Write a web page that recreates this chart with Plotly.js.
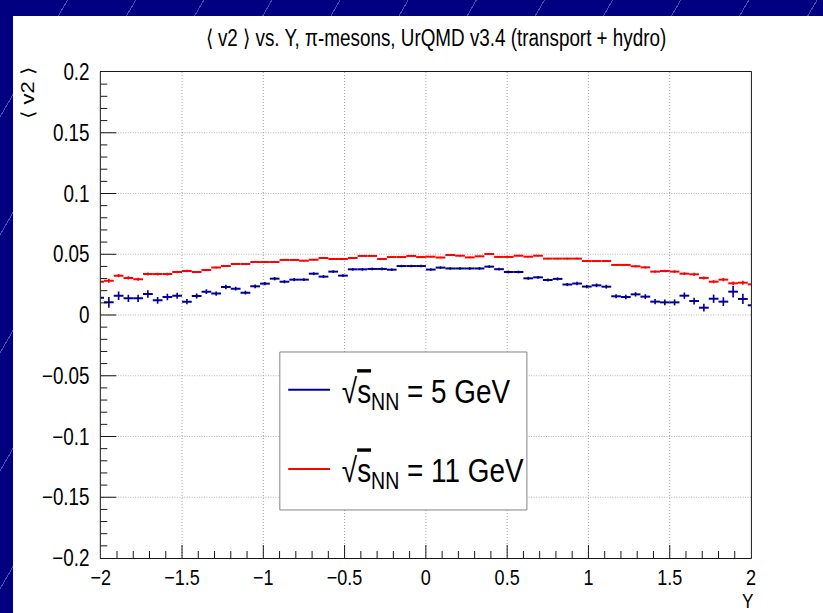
<!DOCTYPE html>
<html><head><meta charset="utf-8">
<script src="https://cdn.plot.ly/plotly-3.0.1.min.js"></script>
<style>
html,body{margin:0;padding:0;width:823px;height:613px;overflow:hidden;}
body{background-color:#000080;background-image:repeating-linear-gradient(120deg, rgba(0,0,0,0) 0px, rgba(0,0,0,0) 58px, rgba(120,130,220,0.6) 58px, rgba(120,130,220,0.6) 59px);}
#chart{position:absolute;left:13px;top:16px;width:988px;height:597px;background:#fff;transform:scaleX(0.82);transform-origin:0 0;}
</style></head><body><div id="chart"></div>
<script>
// bin centres of rapidity Y (bin width 0.06)
const rapidity = [-2.01,-1.95,-1.89,-1.83,-1.77,-1.71,-1.65,-1.59,-1.53,-1.47,-1.41,-1.35,-1.29,-1.23,-1.17,-1.11,-1.05,-0.99,-0.93,-0.87,-0.81,-0.75,-0.69,-0.63,-0.57,-0.51,-0.45,-0.39,-0.33,-0.27,-0.21,-0.15,-0.09,-0.03,
0.03,0.09,0.15,0.21,0.27,0.33,0.39,0.45,0.51,0.57,0.63,0.69,0.75,0.81,0.87,0.93,0.99,1.05,1.11,1.17,1.23,1.29,1.35,1.41,1.47,1.53,1.59,1.65,1.71,1.77,1.83,1.89,1.95,2.01];
const binHalfWidth = 0.03;

// <v2> for sqrt(sNN) = 5 GeV
const v2_5GeV = [0.0143,0.0104,0.0159,0.0137,0.0137,0.0173,0.0121,0.0148,0.0159,0.0110,
0.0156,0.0192,0.0176,0.0230,0.0217,0.0184,0.0236,0.0258,0.0299,0.0274,
0.0291,0.0291,0.0340,0.0316,0.0357,0.0324,0.0376,0.0376,0.0379,0.0379,
0.0373,0.0403,0.0403,0.0403,0.0374,0.0390,0.0383,0.0383,0.0383,0.0383,
0.0398,0.0377,0.0354,0.0354,0.0302,0.0310,0.0288,0.0297,0.0251,0.0259,
0.0234,0.0244,0.0233,0.0154,0.0148,0.0170,0.0151,0.0110,0.0104,0.0104,
0.0159,0.0115,0.0060,0.0134,0.0110,0.0192,0.0132,0.0080];
const err_5GeV = [0.0050,0.0045,0.0035,0.0030,0.0030,0.0030,0.0028,0.0026,0.0025,0.0022,
0.0020,0.0020,0.0018,0.0018,0.0016,0.0016,0.0015,0.0014,0.0014,0.0013,
0.0013,0.0012,0.0012,0.0012,0.0011,0.0011,0.0011,0.0011,0.0011,0.0011,
0.0010,0.0010,0.0010,0.0010,0.0010,0.0010,0.0010,0.0010,0.0011,0.0011,
0.0011,0.0011,0.0011,0.0011,0.0012,0.0012,0.0012,0.0013,0.0013,0.0014,
0.0014,0.0015,0.0016,0.0016,0.0018,0.0018,0.0020,0.0022,0.0024,0.0025,
0.0026,0.0028,0.0032,0.0034,0.0036,0.0048,0.0042,0.0048];

// <v2> for sqrt(sNN) = 11 GeV
const v2_11GeV = [0.0274,0.0282,0.0324,0.0305,0.0294,0.0337,0.0337,0.0337,0.0354,0.0362,
0.0354,0.0370,0.0390,0.0403,0.0420,0.0420,0.0436,0.0436,0.0436,0.0453,
0.0453,0.0447,0.0455,0.0469,0.0461,0.0461,0.0469,0.0486,0.0486,0.0461,
0.0477,0.0477,0.0486,0.0477,0.0480,0.0473,0.0494,0.0488,0.0474,0.0483,
0.0502,0.0478,0.0478,0.0488,0.0480,0.0488,0.0464,0.0464,0.0464,0.0464,
0.0444,0.0444,0.0444,0.0412,0.0412,0.0401,0.0392,0.0357,0.0362,0.0357,
0.0340,0.0335,0.0305,0.0274,0.0291,0.0261,0.0266,0.0252];
const err_11GeV = [0.0018,0.0016,0.0014,0.0013,0.0012,0.0012,0.0011,0.0011,0.0010,0.0010,
0.0009,0.0009,0.0008,0.0008,0.0008,0.0007,0.0007,0.0007,0.0007,0.0006,
0.0006,0.0006,0.0006,0.0006,0.0006,0.0006,0.0006,0.0006,0.0006,0.0006,
0.0006,0.0006,0.0006,0.0006,0.0006,0.0006,0.0006,0.0006,0.0006,0.0006,
0.0006,0.0006,0.0006,0.0006,0.0006,0.0006,0.0006,0.0006,0.0007,0.0007,
0.0007,0.0007,0.0008,0.0008,0.0008,0.0009,0.0009,0.0010,0.0010,0.0011,
0.0011,0.0012,0.0012,0.0013,0.0014,0.0015,0.0016,0.0018];

const seriesNames = ['\u00A0\u221A<span style="text-decoration:overline">s</span><sub>NN</sub> = 5 GeV',
                     '\u00A0\u221A<span style="text-decoration:overline">s</span><sub>NN</sub> = 11 GeV'];
const colors = ['#000099', '#ff0000'];

const F = '"Liberation Sans", Arial, Helvetica, sans-serif';

function histTrace(y, e, color) {
  return {
    x: rapidity, y: y, type: 'scatter', mode: 'markers',
    marker: {size: 0, opacity: 0, color: color},
    error_x: {type: 'constant', value: binHalfWidth, width: 0, thickness: 2, color: color},
    error_y: {type: 'data', array: e, visible: true, width: 0, thickness: 2, color: color},
    showlegend: false, hoverinfo: 'x+y'
  };
}
function legendTrace(name, color, grp) {
  return {x: [null], y: [null], type: 'scatter', mode: 'lines', name: name,
          legendgroup: grp, line: {color: color, width: 2}, showlegend: true};
}

const data = [
  histTrace(v2_5GeV, err_5GeV, colors[0]),
  histTrace(v2_11GeV, err_11GeV, colors[1]),
  legendTrace(seriesNames[0], colors[0], 'a'),
  legendTrace(seriesNames[1], colors[1], 'b')
];

const layout = {
  width: 988, height: 597,
  margin: {l: 107, r: 88, t: 56, b: 55},
  paper_bgcolor: '#ffffff', plot_bgcolor: '#ffffff',
  font: {family: F, color: '#000', size: 23},
  title: {text: '\u27E8 v2 \u27E9 vs. Y, \u03C0-mesons, UrQMD v3.4 (transport + hydro)',
          font: {family: F, size: 23, color: '#000'}, xref: 'container', x: 0.522, xanchor: 'center',
          yref: 'container', y: 1 - 22/597, yanchor: 'middle'},
  xaxis: {range: [-2, 2], dtick: 0.5, tick0: -2, showgrid: true, gridcolor: '#999', griddash: '1px,2px', gridwidth: 1,
          zeroline: false, showline: true, mirror: true, linecolor: '#000', linewidth: 1,
          ticks: 'inside', ticklen: 13, tickcolor: '#000', tickwidth: 1,
          minor: {dtick: 0.1, ticks: 'inside', ticklen: 7, tickcolor: '#000', showgrid: false},
          tickfont: {family: F, size: 22}, ticklabelstandoff: 0},
  yaxis: {range: [-0.2, 0.2], dtick: 0.05, tick0: 0, showgrid: true, gridcolor: '#999', griddash: '1px,2px', gridwidth: 1,
          zeroline: false, showline: true, mirror: true, linecolor: '#000', linewidth: 1,
          ticks: 'inside', ticklen: 19, tickcolor: '#000', tickwidth: 1,
          minor: {dtick: 0.01, ticks: 'inside', ticklen: 8, tickcolor: '#000', showgrid: false},
          tickfont: {family: F, size: 23}, ticklabelstandoff: 8},
  showlegend: true,
  legend: {x: 0.282, y: 0.405, xanchor: 'left', yanchor: 'top', bgcolor: 'rgba(0,0,0,0)',
           borderwidth: 0, font: {family: F, size: 34, color: '#000'},
           traceorder: 'grouped', tracegroupgap: 32, itemwidth: 51},
  shapes: [
    {type: 'rect', xref: 'paper', yref: 'paper', x0: 0.2754, x1: 0.6554, y0: 0.0988, y1: 0.4239,
     line: {color: '#777', width: 1}, fillcolor: '#ffffff', layer: 'above'}
  ],
  annotations: [
    {text: '\u27E8 v2 \u27E9', xref: 'paper', yref: 'paper', x: -0.113, y: 1.015, xanchor: 'center', yanchor: 'top',
     textangle: -90, showarrow: false, font: {family: F, size: 22, color: '#000'}},
    {text: 'Y', xref: 'paper', yref: 'paper', x: 0.995, y: (558 - 613) / 486, xanchor: 'center', yanchor: 'bottom',
     borderpad: 0, showarrow: false, font: {family: F, size: 21, color: '#000'}}
  ]
};

Plotly.newPlot('chart', data, layout, {displayModeBar: false, staticPlot: true});
</script></body></html>
